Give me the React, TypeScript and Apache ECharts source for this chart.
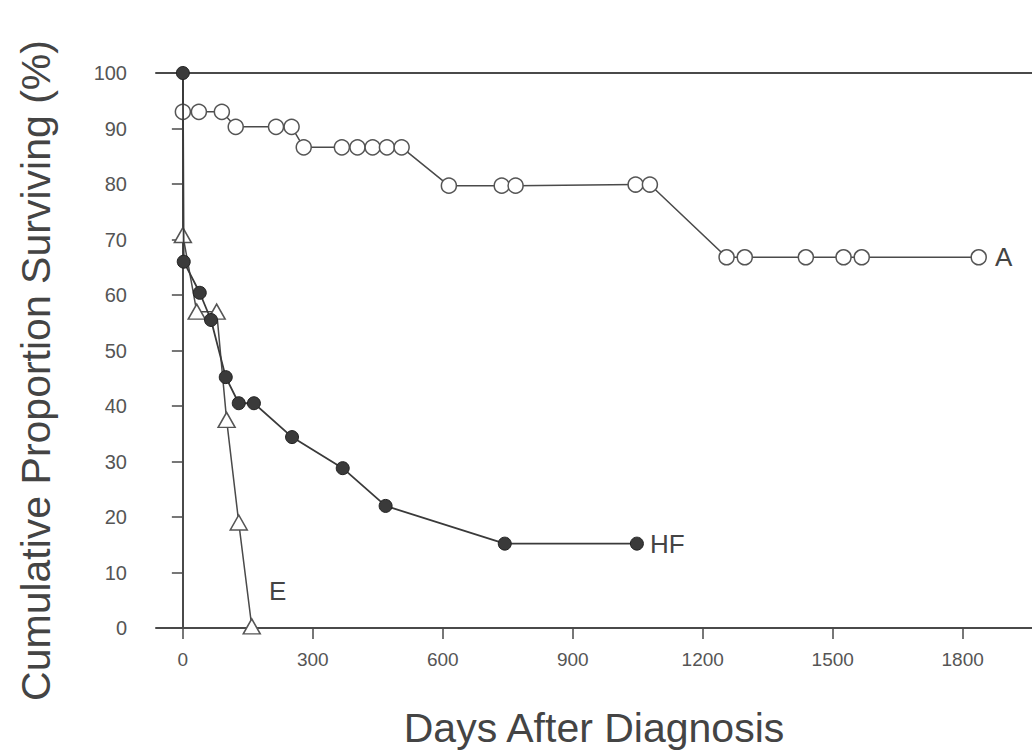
import React, { useEffect, useRef } from "react";
import * as echarts from "echarts";

const xTicks = [0, 300, 600, 900, 1200, 1500, 1800];

const seriesA: [number, number][] = [
  [0, 93], [37, 93], [90, 93], [122, 90.3], [215, 90.3], [251, 90.3],
  [279, 86.6], [367, 86.6], [403, 86.6], [438, 86.6], [471, 86.6], [505, 86.6],
  [614, 79.7], [736, 79.7], [768, 79.7], [1045, 79.9], [1078, 79.9],
  [1255, 66.8], [1297, 66.8], [1438, 66.8], [1525, 66.8], [1567, 66.8], [1837, 66.8],
];

const seriesHF: [number, number][] = [
  [0, 100], [2, 66], [39, 60.4], [65, 55.5], [99, 45.2], [129, 40.5], [164, 40.5],
  [252, 34.4], [369, 28.8], [468, 22], [743, 15.2], [1048, 15.2],
];

const seriesE: [number, number][] = [
  [0, 70.8], [32, 57], [78, 57], [101, 37.5], [129, 19], [159, 0.3],
];

const LINE = "#4a4a4a";
const TEXT = "#444";
const FONT = "'Liberation Sans', Arial, sans-serif";

export default function App() {
  const ref = useRef<HTMLDivElement>(null);
  useEffect(() => {
    if (!ref.current) return;
    const chart = echarts.init(ref.current, undefined, { renderer: "svg" });
    const lastLabel = (text: string, extra: any = {}) => ({
      show: true,
      formatter: text,
      position: "right",
      distance: 8,
      fontSize: 26,
      color: TEXT,
      fontFamily: FONT,
      ...extra,
    });
    const withLastLabel = (data: [number, number][], label: any) =>
      data.map((d, i) => (i === data.length - 1 ? { value: d, label } : { value: d }));

    chart.setOption({
      animation: false,
      backgroundColor: "#fff",
      grid: { left: 156, top: 73, bottom: 124, right: 0, outerBoundsMode: "none", containLabel: false },
      xAxis: [
        {
          type: "value",
          min: -62,
          max: 1960,
          name: "Days After Diagnosis",
          nameLocation: "middle",
          nameGap: 79,
          nameTextStyle: { fontSize: 41, color: TEXT, fontFamily: FONT },
          splitLine: { show: false },
          axisLine: { show: true, onZero: false, lineStyle: { color: LINE, width: 2 } },
          axisTick: { show: true, length: 11, customValues: xTicks, lineStyle: { color: LINE, width: 1.5 } },
          axisLabel: {
            customValues: xTicks,
            margin: 22,
            fontSize: 19,
            color: "#555",
            fontFamily: FONT,
            formatter: (v: number) => String(v),
          },
        },
        {
          type: "value",
          position: "top",
          min: -62,
          max: 1960,
          splitLine: { show: false },
          axisLine: { show: true, onZero: false, lineStyle: { color: LINE, width: 2 } },
          axisTick: { show: false },
          axisLabel: { show: false },
        },
      ],
      yAxis: {
        type: "value",
        min: 0,
        max: 100,
        interval: 10,
        name: "Cumulative Proportion Surviving (%)",
        nameLocation: "middle",
        nameGap: 100,
        nameTextStyle: { fontSize: 41, color: TEXT, fontFamily: FONT, padding: [0, 40, 0, 0] },
        splitLine: { show: false },
        axisLine: { show: true, lineStyle: { color: LINE, width: 2 } },
        axisTick: { show: true, length: 11, lineStyle: { color: LINE, width: 1.5 } },
        axisLabel: { margin: 29, fontSize: 20, color: "#555", fontFamily: FONT },
      },
      series: [
        {
          name: "A",
          type: "line",
          data: withLastLabel(seriesA, lastLabel("A")),
          symbol: "circle",
          symbolSize: 15,
          lineStyle: { color: LINE, width: 1.5 },
          itemStyle: { color: "#fff", borderColor: "#555", borderWidth: 1.5 },
          z: 3,
        },
        {
          name: "E",
          type: "line",
          data: withLastLabel(seriesE, lastLabel("E", { offset: [0, -35] })),
          symbol: "triangle",
          symbolSize: [17, 15],
          lineStyle: { color: LINE, width: 1.5 },
          itemStyle: { color: "#fff", borderColor: "#555", borderWidth: 1.5 },
          z: 4,
        },
        {
          name: "HF",
          type: "line",
          data: withLastLabel(seriesHF, lastLabel("HF", { distance: 6 })),
          symbol: "circle",
          symbolSize: 13,
          lineStyle: { color: "#3a3a3a", width: 1.8 },
          itemStyle: { color: "#3a3a3a", borderColor: "#222", borderWidth: 1 },
          z: 5,
        },
      ],
    });
    return () => chart.dispose();
  }, []);
  return <div ref={ref} style={{ width: 1032, height: 752, position: "absolute", left: 0, top: 0 }} />;
}
